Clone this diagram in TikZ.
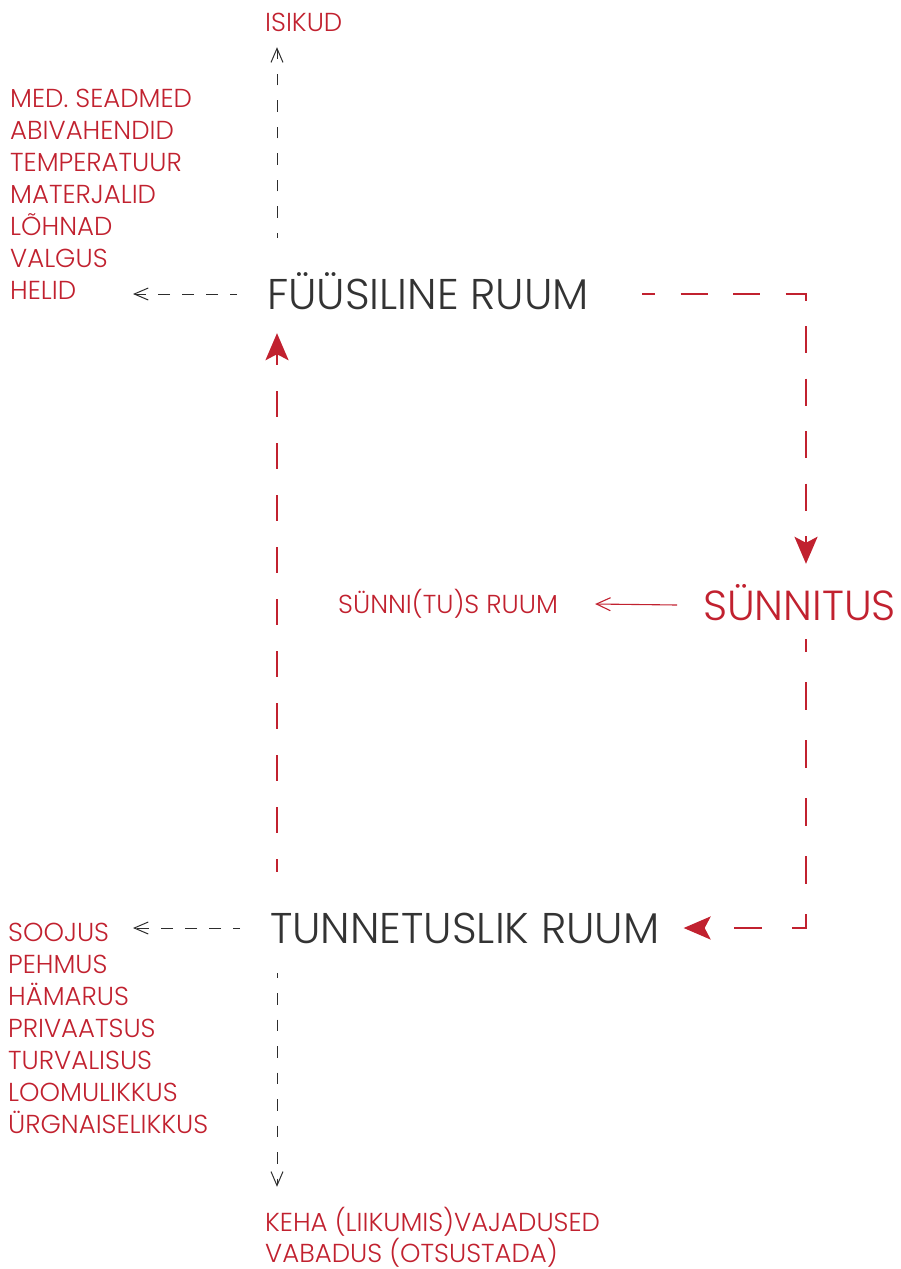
\documentclass[tikz,border=0pt]{standalone}
\usepackage{fontspec}
\setmainfont{Poppins}[UprightFont=* Light]
\usetikzlibrary{arrows.meta,calc}
\definecolor{rd}{RGB}{193,33,47}
\definecolor{ink}{RGB}{51,51,51}
\definecolor{lk}{RGB}{45,45,45}
\tikzset{
  lbl/.style={inner sep=0pt, anchor=base west, text depth=0pt},
  small/.style={lbl, text=rd, font=\fontsize{26}{30}\selectfont, text height=18pt},
  big/.style={lbl, font=\fontsize{43}{50}\selectfont, text height=30pt},
  blk/.style={draw=lk, line width=1pt, -{Straight Barb[length=14pt,width=12pt]}},
  vdash/.style={dash pattern=on 11.5pt off 15pt, dash phase=6.5pt},
  hdash/.style={dash pattern=on 12pt off 12pt, dash phase=5pt},
  rpath/.style={draw=rd, line width=2.5pt, line join=miter,
    -{Stealth[length=27pt,width=23pt,inset=6pt]}},
  rthin/.style={draw=rd, line width=1.1pt, -{Straight Barb[length=14pt,width=13pt]}},
}
\begin{document}
\begin{tikzpicture}[x=1pt,y=-1pt]
\useasboundingbox (0,0) rectangle (900,1269);

% axes shared by the vertical connectors
\coordinate (ax) at (277,0);
\coordinate (rx) at (806,0);
\coordinate (tipL) at (133,0);

% main labels
\node[big, text=ink] (fys) at (267,309) {FÜÜSILINE RUUM};
\node[big, text=rd, font=\fontsize{42}{50}\selectfont, text height=30pt] (sun) at (703,620) {SÜNNITUS};
\node[big, text=ink] (tun) at (270,943) {TUNNETUSLIK RUUM};

% side labels
\node[small] (isikud) at (265,31) {ISIKUD};
\node[small] (sruum) at (338,613) {SÜNNI(TU)S RUUM};

\foreach \t [count=\i] in {MED. SEADMED, ABIVAHENDID, TEMPERATUUR, MATERJALID, LÕHNAD, VALGUS, HELID}
  \node[small] (m\i) at (10,{107+32*(\i-1)}) {\t};

\foreach \t [count=\i] in {SOOJUS, PEHMUS, HÄMARUS, PRIVAATSUS, TURVALISUS, LOOMULIKKUS, ÜRGNAISELIKKUS}
  \node[small] (s\i) at (8,{941+32*(\i-1)}) {\t};

\node[small] (keha) at (265,1231) {KEHA (LIIKUMIS)VAJADUSED};
\node[small] (vaba) at (265,1262) {VABADUS (OTSUSTADA)};

% black dashed connectors
\draw[blk, vdash] ($(fys.north -| ax)+(0,-41)$) -- ($(isikud.south -| ax)+(0,16)$);
\draw[blk, hdash] ($(fys.west)+(-30,0)$) -- (fys.west -| tipL);
\draw[blk, hdash] ($(tun.west)+(-30,0)$) -- (tun.west -| tipL);
\draw[blk, vdash] ($(tun.south -| ax)+(0,30)$) -- ($(keha.north -| ax)+(0,-26)$);

% red cycle
\draw[rpath, dash pattern=on 27pt off 25.5pt, dash phase=14pt]
  ($(fys.east)+(53,0)$) -| ($(sun.north -| rx)+(0,-26)$);
\draw[rpath, dash pattern=on 28pt off 30pt, dash phase=15pt]
  ($(sun.south -| rx)+(0,19)$) |- ($(tun.east)+(24,0)$);
\draw[rpath, dash pattern=on 26pt off 26pt, dash phase=13pt]
  ($(tun.north -| ax)+(0,-41)$) -- ($(fys.south -| ax)+(0,24)$);
\draw[rthin] ($(sun.west)+(-26,0)$) -- ($(sruum.east)+(37,0)$);
\end{tikzpicture}
\end{document}
